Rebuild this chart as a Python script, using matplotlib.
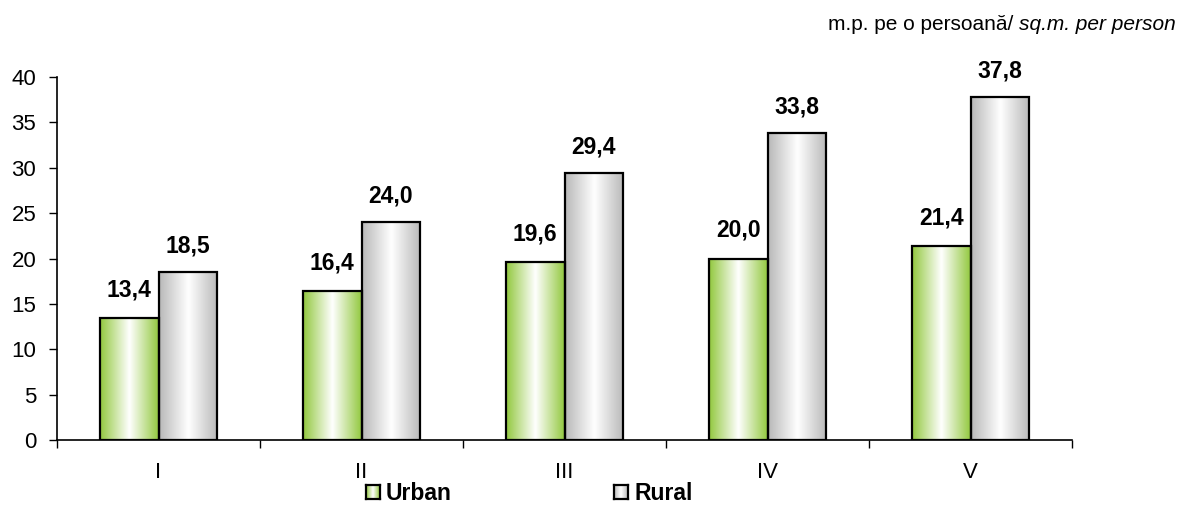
import numpy as np
import matplotlib.pyplot as plt
from matplotlib.colors import LinearSegmentedColormap
from matplotlib.patches import Rectangle

plt.rcParams['font.family'] = ['Liberation Sans', 'DejaVu Sans']

categories = ['I', 'II', 'III', 'IV', 'V']
urban = [13.4, 16.4, 19.6, 20.0, 21.4]
rural = [18.5, 24.0, 29.4, 33.8, 37.8]

green_cm = LinearSegmentedColormap.from_list('g', ['#92c83e', '#ffffff', '#92c83e'])
gray_cm = LinearSegmentedColormap.from_list('k', ['#b8b8b8', '#ffffff', '#b8b8b8'])
grad = np.linspace(0, 1, 256).reshape(1, -1)


def grad_bar(ax, x0, w, h, cmap):
    ax.imshow(grad, cmap=cmap, extent=[x0, x0 + w, 0, h], aspect='auto',
              interpolation='bicubic', zorder=2)
    ax.add_patch(Rectangle((x0, 0), w, h, fill=False, edgecolor='black',
                           linewidth=1.6, zorder=3))


fig = plt.figure(figsize=(11.83, 5.2), dpi=100)
ax = fig.add_axes([0.0482, 0.1538, 0.8580, 0.6981])

w = 0.29
for i in range(len(categories)):
    grad_bar(ax, i - w, w, urban[i], green_cm)
    grad_bar(ax, i, w, rural[i], gray_cm)
    ax.text(i - w / 2, urban[i] + 2.4, f'{urban[i]:.1f}'.replace('.', ','),
            ha='center', va='baseline', fontsize=16.5, fontweight='bold')
    ax.text(i + w / 2, rural[i] + 2.2, f'{rural[i]:.1f}'.replace('.', ','),
            ha='center', va='baseline', fontsize=16.5, fontweight='bold')

ax.set_xlim(-0.5, 4.5)
ax.set_ylim(0, 40)
ax.set_yticks(range(0, 41, 5))
ax.set_xticks(range(5))
ax.set_xticklabels(categories)
ax.set_xticks(np.arange(-0.5, 4.6, 1), minor=True)
ax.tick_params(axis='x', which='major', length=0, pad=16, labelsize=16)
ax.tick_params(axis='x', which='minor', length=6, direction='out', width=1)
ax.tick_params(axis='y', length=6, direction='out', width=1, labelsize=16, pad=9)
ax.spines['top'].set_visible(False)
ax.spines['right'].set_visible(False)
for s in ['left', 'bottom']:
    ax.spines[s].set_linewidth(1.2)

t1 = fig.text(0.9937, 0.952, 'm.p. pe o persoană/ ', ha='right', va='center', fontsize=15)
t = fig.text(0.9937, 0.952, 'sq.m. per person', ha='right', va='center', fontsize=15,
             style='italic')
fig.canvas.draw()
bb = t.get_window_extent()
t1.set_position((bb.x0 / fig.bbox.width, 0.952))

# legend
for lx, cm, label in [(366, green_cm, 'Urban'), (614, gray_cm, 'Rural')]:
    lax = fig.add_axes([lx / 1183, (520 - 499) / 520, 14 / 1183, 14 / 520])
    lax.imshow(grad, cmap=cm, aspect='auto', extent=[0, 1, 0, 1])
    lax.set_xticks([])
    lax.set_yticks([])
    for s in lax.spines.values():
        s.set_linewidth(1.6)
    fig.text((lx + 20) / 1183, (520 - 493) / 520, label, ha='left', va='center',
             fontsize=16.5, fontweight='bold')

fig.savefig('out.png', dpi=100)
